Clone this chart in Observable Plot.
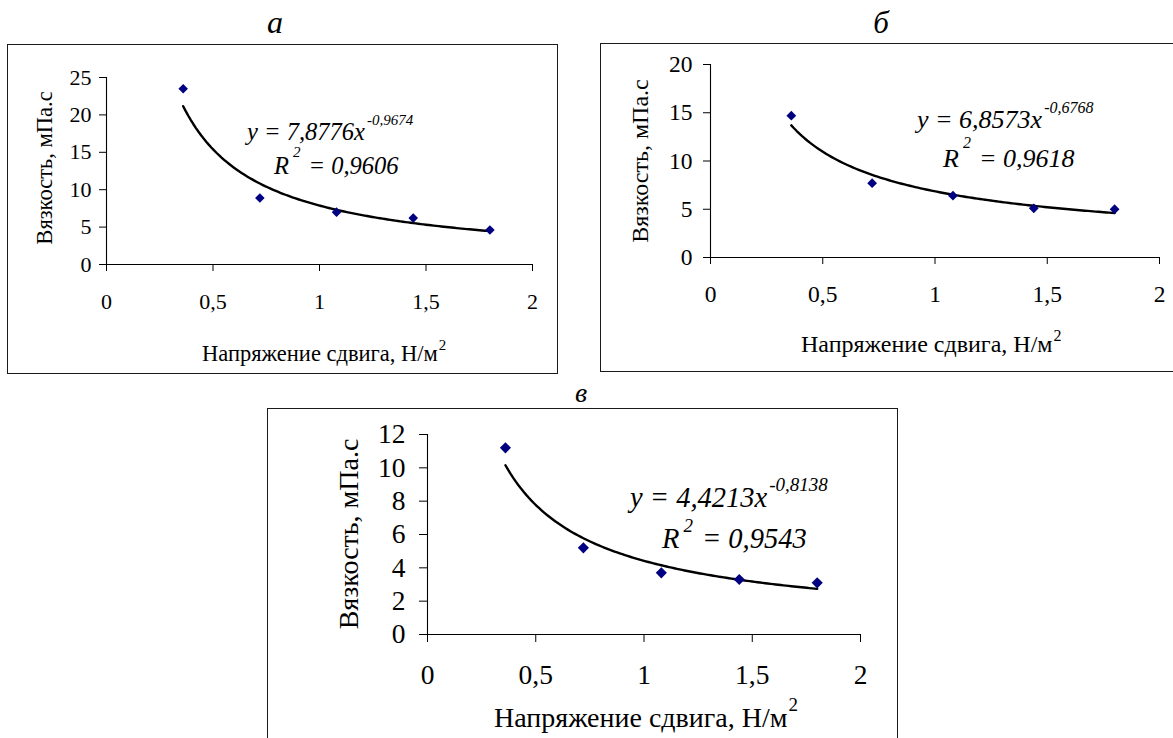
<!DOCTYPE html>
<html><head><meta charset="utf-8">
<script src="https://cdn.jsdelivr.net/npm/d3@7"></script>
<script src="https://cdn.jsdelivr.net/npm/@observablehq/plot@0.6"></script>
<style>
html,body{margin:0;padding:0;background:#fff;}
#page{position:relative;width:1173px;height:738px;overflow:hidden;background:#fff;}
.plotbox{position:absolute;}
.plotbox svg{display:block;}
.frame{position:absolute;border:1.6px solid #1a1a1a;box-sizing:border-box;pointer-events:none;}
#overlay{position:absolute;left:0;top:0;pointer-events:none;}
</style></head><body><div id="page"></div>
<script>
// ---- data ----
const shearStress = [0.36, 0.72, 1.08, 1.44, 1.8];
const viscosityA = [23.5, 8.9, 7.0, 6.2, 4.6];
const viscosityB = [14.7, 7.7, 6.4, 5.1, 5.0];
const viscosityC = [11.2, 5.2, 3.7, 3.3, 3.1];
const panelTitles = ["а", "б", "в"];
const trendCoef = [7.8776, 6.8573, 4.4213];
const trendExp = [-0.9674, -0.6768, -0.8138];
const rSquared = [0.9606, 0.9618, 0.9543];
const xTicks = [0, 0.5, 1, 1.5, 2];
const yTicksA = [0, 5, 10, 15, 20, 25];
const yTicksB = [0, 5, 10, 15, 20];
const yTicksC = [0, 2, 4, 6, 8, 10, 12];
const xLabel = "Напряжение сдвига, Н/м";
const xLabelSup = "2";
const yLabel = "Вязкость, мПа.с";

const comma = d => String(d).replace(".", ",");
const FONT = '"Liberation Serif","Times New Roman",serif';
const page = document.getElementById("page");

const panels = [
  {values: viscosityA, yticks: yTicksA, ymax: 25, k: 0,
   box: {left: 7, top: 44, w: 551, h: 330}, frame: {left: 7, top: 44, w: 551, h: 330},
   m: {l: 99, r: 26, t: 33, b: 110}, font: 22, tick: 7, xpad: 22, ypad: 8, r: 4.3,
   title: {x: 275, y: 33, size: 32},
   ylab: {x: 52, y: 168, size: 22.5},
   xlab: {x: 202, y: 361, size: 22.5, sup: 15, raise: 11},
   eq: {x: 247, y: 140, size: 24.5, sup: 15, raise: 15},
   r2: {x: 274, y: 174, supdx: 4, raise: 17, gap: 8}},
  {values: viscosityB, yticks: yTicksB, ymax: 20, k: 1,
   box: {left: 600, top: 43, w: 573, h: 329}, frame: {left: 600, top: 43, w: 590, h: 329},
   m: {l: 110, r: 14, t: 21, b: 115}, font: 23.5, tick: 7, xpad: 21, ypad: 11, r: 4.4,
   title: {x: 881, y: 33, size: 31},
   ylab: {x: 648, y: 161, size: 24},
   xlab: {x: 801, y: 352, size: 24, sup: 16, raise: 11},
   eq: {x: 917, y: 128, size: 26, sup: 16, raise: 15},
   r2: {x: 943, y: 167, supdx: 4, raise: 19, gap: 8}},
  {values: viscosityC, yticks: yTicksC, ymax: 12, k: 2,
   box: {left: 267, top: 408, w: 631, h: 330}, frame: {left: 267, top: 408, w: 631, h: 345},
   m: {l: 160, r: 38, t: 26, b: 104}, font: 27.5, tick: 8, xpad: 22, ypad: 14, r: 5,
   title: {x: 581, y: 402, size: 28},
   ylab: {x: 358, y: 534, size: 28},
   xlab: {x: 494, y: 727, size: 28, sup: 19, raise: 16},
   eq: {x: 630, y: 507, size: 28.5, sup: 19, raise: 16},
   r2: {x: 662, y: 548, supdx: 4, raise: 16, gap: 9}}
];

for (const p of panels) {
  const rows = shearStress.map((x, i) => ({x, y: p.values[i]}));
  const a = trendCoef[p.k], b = trendExp[p.k];
  const x0 = d3.min(shearStress), x1 = d3.max(shearStress);
  const trend = d3.range(0, 121).map(j => {
    const x = x0 + (x1 - x0) * j / 120;
    return {x, y: a * Math.pow(x, b)};
  });
  const svg = Plot.plot({
    width: p.box.w, height: p.box.h,
    marginLeft: p.m.l, marginRight: p.m.r, marginTop: p.m.t, marginBottom: p.m.b,
    style: {fontFamily: FONT, fontSize: p.font + "px", color: "#000", background: "transparent", overflow: "visible"},
    x: {domain: [0, 2], ticks: xTicks, tickFormat: comma, tickSize: p.tick, tickPadding: p.xpad, label: null},
    y: {domain: [0, p.ymax], ticks: p.yticks, tickFormat: comma, tickSize: p.tick, tickPadding: p.ypad, label: null},
    marks: [
      Plot.ruleX([0], {y1: 0, y2: p.ymax, stroke: "#000", strokeWidth: 1.1}),
      Plot.ruleY([0], {x1: 0, x2: 2, stroke: "#000", strokeWidth: 1.1}),
      Plot.line(trend, {x: "x", y: "y", stroke: "#000", strokeWidth: 2.4}),
      Plot.dot(rows, {x: "x", y: "y", symbol: "diamond2", r: p.r, fill: "#000080", stroke: "none"})
    ]
  });
  const box = document.createElement("div");
  box.className = "plotbox";
  box.style.left = p.box.left + "px"; box.style.top = p.box.top + "px";
  box.appendChild(svg);
  page.appendChild(box);
  const fr = document.createElement("div");
  fr.className = "frame";
  fr.style.left = p.frame.left + "px"; fr.style.top = p.frame.top + "px";
  fr.style.width = p.frame.w + "px"; fr.style.height = p.frame.h + "px";
  page.appendChild(fr);
}

// ---- text overlay: titles, axis titles, trend equations ----
const ov = d3.select(page).append("svg").attr("id", "overlay")
  .attr("width", 1173).attr("height", 738)
  .style("font-family", FONT).attr("fill", "#000");

for (const p of panels) {
  ov.append("text").attr("x", p.title.x).attr("y", p.title.y)
    .attr("text-anchor", "middle").attr("font-style", "italic")
    .attr("font-size", p.title.size).text(panelTitles[p.k]);

  ov.append("text").attr("transform", `translate(${p.ylab.x},${p.ylab.y}) rotate(-90)`)
    .attr("text-anchor", "middle").attr("font-size", p.ylab.size).text(yLabel);

  const xl = ov.append("text").attr("x", p.xlab.x).attr("y", p.xlab.y).attr("font-size", p.xlab.size);
  xl.append("tspan").text(xLabel);
  xl.append("tspan").attr("dx", 1).attr("dy", -p.xlab.raise).attr("font-size", p.xlab.sup).text(xLabelSup);

  const eq = ov.append("text").attr("x", p.eq.x).attr("y", p.eq.y)
    .attr("font-style", "italic").attr("font-size", p.eq.size);
  eq.append("tspan").text("y = " + comma(trendCoef[p.k]) + "x");
  eq.append("tspan").attr("dx", 2).attr("dy", -p.eq.raise).attr("font-size", p.eq.sup).text(comma(trendExp[p.k]));

  const r2 = ov.append("text").attr("x", p.r2.x).attr("y", p.r2.y)
    .attr("font-style", "italic").attr("font-size", p.eq.size);
  r2.append("tspan").text("R");
  r2.append("tspan").attr("dx", p.r2.supdx).attr("dy", -p.r2.raise).attr("font-size", p.eq.sup).text("2");
  r2.append("tspan").attr("dx", p.r2.gap).attr("dy", p.r2.raise).text("= " + comma(rSquared[p.k]));
}
</script>
</body></html>
